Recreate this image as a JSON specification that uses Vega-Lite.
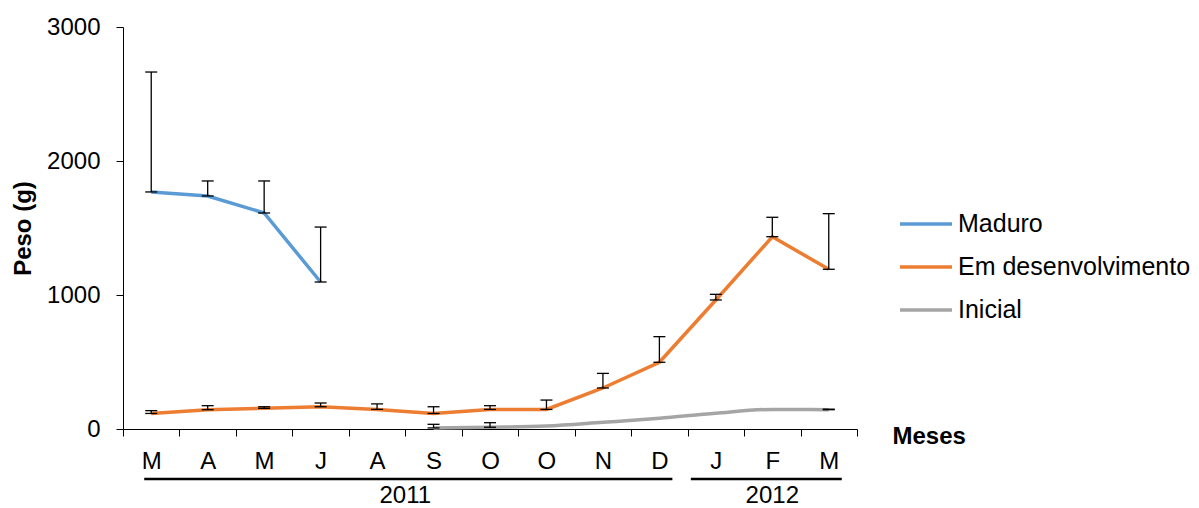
{
  "$schema": "https://vega.github.io/schema/vega-lite/v6.json",
  "autosize": "none",
  "padding": {"left": 123, "top": 27, "right": 342, "bottom": 79},
  "width": 734,
  "height": 402,
  "background": "white",
  "config": {
    "view": {"stroke": null},
    "font": "Liberation Sans",
    "axis": {"grid": false, "domainColor": "#000", "tickColor": "#000", "labelColor": "#000", "titleColor": "#000", "domainWidth": 1, "tickWidth": 1}
  },
  "datasets": {
    "pesos": [
      {"n": 1, "mes": "M", "serie": "Maduro", "peso": 1769, "topo": 2664},
      {"n": 2, "mes": "A", "serie": "Maduro", "peso": 1739, "topo": 1851},
      {"n": 3, "mes": "M", "serie": "Maduro", "peso": 1612, "topo": 1851},
      {"n": 4, "mes": "J", "serie": "Maduro", "peso": 1097, "topo": 1507},
      {"n": 1, "mes": "M", "serie": "Em desenvolvimento", "peso": 116, "topo": 137},
      {"n": 2, "mes": "A", "serie": "Em desenvolvimento", "peso": 144, "topo": 174},
      {"n": 3, "mes": "M", "serie": "Em desenvolvimento", "peso": 154, "topo": 166},
      {"n": 4, "mes": "J", "serie": "Em desenvolvimento", "peso": 166, "topo": 194},
      {"n": 5, "mes": "A", "serie": "Em desenvolvimento", "peso": 146, "topo": 187},
      {"n": 6, "mes": "S", "serie": "Em desenvolvimento", "peso": 116, "topo": 166},
      {"n": 7, "mes": "O", "serie": "Em desenvolvimento", "peso": 146, "topo": 174},
      {"n": 8, "mes": "O", "serie": "Em desenvolvimento", "peso": 146, "topo": 216},
      {"n": 9, "mes": "N", "serie": "Em desenvolvimento", "peso": 306, "topo": 415},
      {"n": 10, "mes": "D", "serie": "Em desenvolvimento", "peso": 498, "topo": 689},
      {"n": 11, "mes": "J", "serie": "Em desenvolvimento", "peso": 963, "topo": 1005},
      {"n": 12, "mes": "F", "serie": "Em desenvolvimento", "peso": 1435, "topo": 1580},
      {"n": 13, "mes": "M", "serie": "Em desenvolvimento", "peso": 1192, "topo": 1607},
      {"n": 6, "mes": "S", "serie": "Inicial", "peso": 8, "topo": 35},
      {"n": 7, "mes": "O", "serie": "Inicial", "peso": 13, "topo": 47},
      {"n": 8, "mes": "O", "serie": "Inicial", "peso": 22, "topo": null},
      {"n": 9, "mes": "N", "serie": "Inicial", "peso": 50, "topo": null},
      {"n": 10, "mes": "D", "serie": "Inicial", "peso": 80, "topo": null},
      {"n": 11, "mes": "J", "serie": "Inicial", "peso": 118, "topo": null},
      {"n": 12, "mes": "F", "serie": "Inicial", "peso": 146, "topo": null},
      {"n": 13, "mes": "M", "serie": "Inicial", "peso": 144, "topo": 148}
    ],
    "anos": [
      {"ano": "2011", "ini": 1, "fim": 10, "meio": 5.5},
      {"ano": "2012", "ini": 11, "fim": 13, "meio": 12}
    ]
  },
  "layer": [
    {
      "data": {"name": "pesos"},
      "transform": [{"filter": "datum.serie !== 'Inicial'"}],
      "mark": {"type": "line", "strokeWidth": 3.5, "strokeCap": "butt"},
      "encoding": {
        "x": {
          "field": "n", "type": "quantitative",
          "scale": {"domain": [0.5, 13.5], "nice": false, "zero": false},
          "axis": {
            "values": [0.5, 1.5, 2.5, 3.5, 4.5, 5.5, 6.5, 7.5, 8.5, 9.5, 10.5, 11.5, 12.5, 13.5],
            "labelExpr": "datum.value < 13 ? ['M','A','M','J','A','S','O','O','N','D','J','F','M'][floor(datum.value)] : ''",
            "labelOffset": 28.2,
            "labelFlush": false,
            "labelOverlap": false,
            "labelFontSize": 24,
            "labelBaseline": "alphabetic",
            "labelPadding": 32,
            "tickSize": 7,
            "title": "Meses",
            "titleFontSize": 24,
            "titleFontWeight": "bold",
            "titleAlign": "left",
            "titleBaseline": "alphabetic",
            "titleX": 769,
            "titleY": 14
          }
        },
        "y": {
          "field": "peso", "type": "quantitative",
          "scale": {"domain": [0, 3000], "nice": false},
          "axis": {
            "values": [0, 1000, 2000, 3000],
            "format": "d",
            "labelFontSize": 24,
            "labelPadding": 16,
            "tickSize": 7,
            "title": "Peso (g)",
            "titleFontSize": 24,
            "titleFontWeight": "bold",
            "titleAngle": 270,
            "titleAlign": "center",
            "titleBaseline": "alphabetic",
            "titleX": -93,
            "titleY": 201
          }
        },
        "color": {
          "field": "serie", "type": "nominal",
          "scale": {"domain": ["Maduro", "Em desenvolvimento", "Inicial"], "range": ["#5B9BD5", "#ED7D31", "#A5A5A5"]},
          "legend": {
            "title": null,
            "orient": "none",
            "legendX": 775,
            "legendY": 169,
            "symbolType": "stroke",
            "symbolSize": 2704,
            "symbolStrokeWidth": 3.5,
            "labelFontSize": 25,
            "labelLimit": 0,
            "labelColor": "#000",
            "labelOffset": 4,
            "rowPadding": 2
          }
        }
      }
    },
    {
      "data": {"name": "pesos"},
      "transform": [{"filter": "datum.serie === 'Inicial'"}],
      "mark": {"type": "line", "strokeWidth": 3.5, "interpolate": "monotone"},
      "encoding": {
        "x": {"field": "n", "type": "quantitative"},
        "y": {"field": "peso", "type": "quantitative"},
        "color": {"field": "serie", "type": "nominal"}
      }
    },
    {
      "data": {"name": "pesos"},
      "transform": [{"filter": "datum.topo != null"}],
      "mark": {"type": "rule", "color": "#000", "strokeWidth": 1.3},
      "encoding": {
        "x": {"field": "n", "type": "quantitative"},
        "y": {"field": "peso", "type": "quantitative"},
        "y2": {"field": "topo"}
      }
    },
    {
      "data": {"name": "pesos"},
      "transform": [{"filter": "datum.topo != null"}],
      "mark": {"type": "tick", "orient": "horizontal", "color": "#000", "size": 12, "thickness": 1.3, "opacity": 1},
      "encoding": {
        "x": {"field": "n", "type": "quantitative"},
        "y": {"field": "topo", "type": "quantitative"}
      }
    },
    {
      "data": {"name": "pesos"},
      "transform": [{"filter": "datum.topo != null"}],
      "mark": {"type": "tick", "orient": "horizontal", "color": "#000", "size": 12, "thickness": 1.3, "opacity": 1},
      "encoding": {
        "x": {"field": "n", "type": "quantitative"},
        "y": {"field": "peso", "type": "quantitative"}
      }
    },
    {
      "data": {"name": "anos"},
      "mark": {"type": "rule", "color": "#000", "strokeWidth": 2.5, "xOffset": {"expr": "datum.ano === '2011' ? -7 : -25"}, "x2Offset": 13},
      "encoding": {
        "x": {"field": "ini", "type": "quantitative"},
        "x2": {"field": "fim"},
        "y": {"datum": -373}
      }
    },
    {
      "data": {"name": "anos"},
      "mark": {"type": "text", "fontSize": 24, "baseline": "alphabetic", "align": "center", "color": "#000"},
      "encoding": {
        "x": {"field": "meio", "type": "quantitative"},
        "y": {"datum": -552},
        "text": {"field": "ano"}
      }
    }
  ]
}
